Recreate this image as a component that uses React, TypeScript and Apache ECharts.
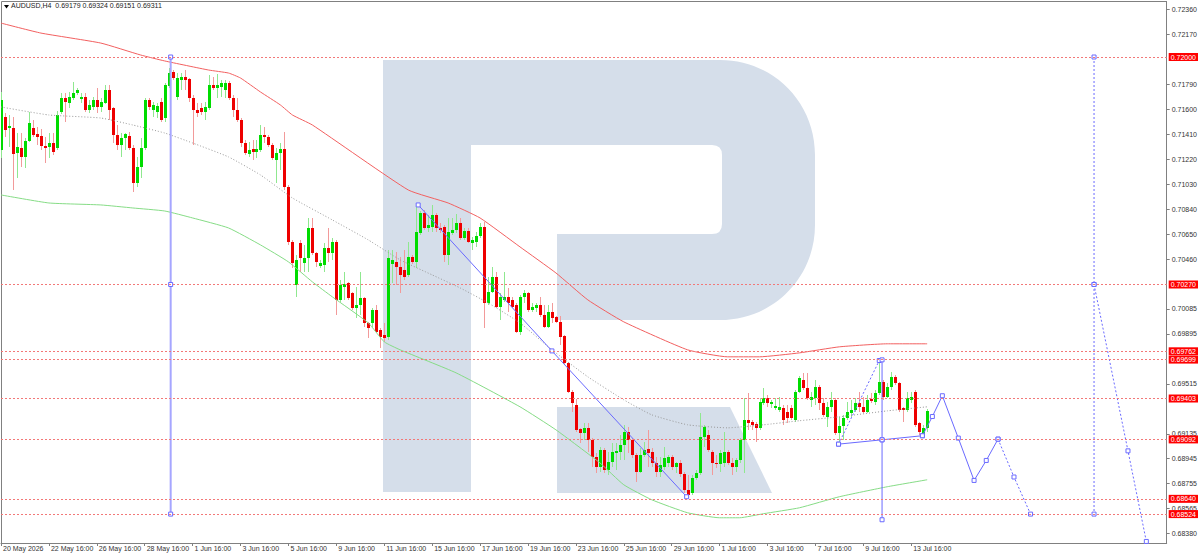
import { useEffect, useRef } from "react";
import * as echarts from "echarts";

const UP = "#00dc00";
const DOWN = "#ee0000";
const UP_WICK = "#8fe88f";
const DOWN_WICK = "#f29a9a";
const LEVEL = "#f27878";
const BLUE = "#6a6aff";
const AXIS = "#808080";
const TEXT = "#333333";
const LOGO = "#d5deea";
const FONT = "Liberation Sans, Arial, sans-serif";

// x is the H4 bar number counted from 20 May 16:00, y is the AUDUSD price
const X_MAX = 292;
const Y_MIN = 0.683042;
const Y_MAX = 0.724183;

const timeTicks = [0, 12, 24, 36, 48, 60, 72, 84, 96, 108, 120, 132, 144, 156, 168, 180, 192, 204, 216, 228];
const timeLabels = [
  "20 May 2026", "22 May 16:00", "26 May 16:00", "28 May 16:00", "1 Jun 16:00", "3 Jun 16:00", "5 Jun 16:00",
  "9 Jun 16:00", "11 Jun 16:00", "15 Jun 16:00", "17 Jun 16:00", "19 Jun 16:00", "23 Jun 16:00", "25 Jun 16:00",
  "29 Jun 16:00", "1 Jul 16:00", "3 Jul 16:00", "7 Jul 16:00", "9 Jul 16:00", "13 Jul 16:00",
];
const priceTicks = [
  0.7236, 0.7217, 0.7179, 0.716, 0.7141, 0.7122, 0.7103, 0.7084, 0.7065, 0.7046, 0.70085, 0.69895, 0.69515,
  0.69135, 0.68945, 0.68755, 0.68565, 0.6838,
];

// [open, close, low, high]
const candles: [number, number, number, number][] = [
  [0.71293, 0.71673, 0.71232, 0.71734], [0.71544, 0.71445, 0.71392, 0.71574], [0.7146, 0.71475, 0.71316, 0.71559],
  [0.7146, 0.71263, 0.70989, 0.71544], [0.7127, 0.71316, 0.7108, 0.71422], [0.71308, 0.7124, 0.71164, 0.71422],
  [0.7124, 0.71361, 0.71156, 0.71384], [0.71361, 0.71498, 0.71354, 0.71582], [0.7146, 0.71407, 0.71392, 0.71521],
  [0.71415, 0.71392, 0.71331, 0.71468], [0.71399, 0.71323, 0.71293, 0.71453], [0.71323, 0.71308, 0.71194, 0.71392],
  [0.71316, 0.71346, 0.71232, 0.71422], [0.71346, 0.71278, 0.71255, 0.71422], [0.71308, 0.71559, 0.71293, 0.71589],
  [0.71582, 0.71688, 0.71567, 0.71726], [0.71688, 0.71658, 0.71506, 0.71726], [0.7165, 0.71696, 0.71612, 0.71734],
  [0.71688, 0.71726, 0.71673, 0.7181], [0.71726, 0.71749, 0.71711, 0.71764], [0.71681, 0.71696, 0.7165, 0.71726],
  [0.71696, 0.71597, 0.71582, 0.71726], [0.71597, 0.71635, 0.71574, 0.71673], [0.7162, 0.71673, 0.71597, 0.71696],
  [0.71673, 0.7162, 0.71574, 0.71764], [0.7162, 0.71658, 0.71582, 0.71688], [0.7165, 0.71749, 0.71643, 0.71787],
  [0.71749, 0.71597, 0.71521, 0.71787], [0.71612, 0.71407, 0.71346, 0.7162], [0.71407, 0.71331, 0.71293, 0.71483],
  [0.71331, 0.71384, 0.7124, 0.71422], [0.71384, 0.71415, 0.71293, 0.71422], [0.71399, 0.71308, 0.71293, 0.7143],
  [0.71308, 0.71042, 0.70974, 0.71331], [0.71042, 0.71164, 0.71012, 0.7124], [0.71164, 0.71308, 0.7108, 0.71384],
  [0.71308, 0.71673, 0.71293, 0.71688], [0.71673, 0.7162, 0.71597, 0.71688], [0.71597, 0.71635, 0.71544, 0.71658],
  [0.71582, 0.71627, 0.71536, 0.7165], [0.71658, 0.71521, 0.71506, 0.71688], [0.71536, 0.71787, 0.71506, 0.71802],
  [0.71779, 0.71878, 0.71764, 0.71916], [0.71886, 0.7184, 0.71825, 0.71901], [0.71696, 0.7184, 0.71673, 0.71878],
  [0.71825, 0.71848, 0.71749, 0.71878], [0.71848, 0.71825, 0.71749, 0.71901], [0.71833, 0.71688, 0.71658, 0.7184],
  [0.71688, 0.71597, 0.71331, 0.71711], [0.71597, 0.71574, 0.71544, 0.7165], [0.71612, 0.71582, 0.71559, 0.7165],
  [0.71582, 0.7162, 0.71521, 0.71658], [0.71612, 0.71787, 0.71597, 0.71863], [0.71787, 0.71764, 0.71749, 0.71848],
  [0.71764, 0.71787, 0.71688, 0.71871], [0.71772, 0.71802, 0.71696, 0.71825], [0.71749, 0.71802, 0.71688, 0.71825],
  [0.71802, 0.71688, 0.71673, 0.71817], [0.71688, 0.71597, 0.71544, 0.71711], [0.71597, 0.71521, 0.71506, 0.71688],
  [0.71521, 0.71346, 0.71316, 0.71536], [0.71346, 0.7127, 0.71255, 0.71369], [0.71263, 0.71293, 0.7124, 0.71354],
  [0.71301, 0.71278, 0.71217, 0.71369], [0.71278, 0.71301, 0.71232, 0.71369], [0.71293, 0.71407, 0.71278, 0.71483],
  [0.71407, 0.71392, 0.71346, 0.71468], [0.71392, 0.71331, 0.71316, 0.71407], [0.71331, 0.71232, 0.71217, 0.71346],
  [0.71217, 0.7127, 0.71042, 0.71308], [0.7127, 0.71301, 0.71141, 0.71346], [0.71301, 0.71012, 0.70989, 0.7143],
  [0.71012, 0.70594, 0.70571, 0.71027], [0.70594, 0.70434, 0.70396, 0.70609], [0.70267, 0.70457, 0.70176, 0.70495],
  [0.70586, 0.70472, 0.70366, 0.70609], [0.70434, 0.70472, 0.70366, 0.70571], [0.70472, 0.707, 0.70366, 0.70776],
  [0.707, 0.7051, 0.70495, 0.70776], [0.7051, 0.70442, 0.70404, 0.70518], [0.70411, 0.70434, 0.70396, 0.70457],
  [0.70419, 0.70548, 0.70366, 0.70586], [0.70548, 0.7051, 0.70442, 0.707], [0.7051, 0.70594, 0.70457, 0.70624],
  [0.70594, 0.70153, 0.70039, 0.70609], [0.70153, 0.70267, 0.70138, 0.70305], [0.70252, 0.70275, 0.70153, 0.70366],
  [0.70282, 0.70168, 0.70153, 0.7029], [0.70206, 0.70092, 0.70077, 0.70214], [0.70092, 0.70115, 0.70016, 0.70252],
  [0.70115, 0.70168, 0.70039, 0.70366], [0.70168, 0.69978, 0.69948, 0.70176], [0.69978, 0.6994, 0.69864, 0.69986],
  [0.69978, 0.70077, 0.69948, 0.70092], [0.70077, 0.6991, 0.69902, 0.70115], [0.69925, 0.69872, 0.69788, 0.6994],
  [0.69887, 0.69864, 0.69834, 0.69978], [0.69872, 0.70472, 0.69849, 0.70533], [0.70426, 0.70457, 0.70282, 0.70533],
  [0.70442, 0.70404, 0.70267, 0.70518], [0.70404, 0.70343, 0.70206, 0.7048], [0.70381, 0.70328, 0.70305, 0.70533],
  [0.70343, 0.7048, 0.70328, 0.70594], [0.7048, 0.70442, 0.70426, 0.70495], [0.70442, 0.7067, 0.70396, 0.70875],
  [0.70662, 0.70814, 0.70647, 0.70829], [0.70814, 0.707, 0.70685, 0.70837], [0.707, 0.70723, 0.7067, 0.70799],
  [0.70708, 0.70799, 0.7067, 0.70875], [0.70799, 0.707, 0.7067, 0.70814], [0.707, 0.70685, 0.70662, 0.70738],
  [0.70708, 0.70495, 0.70442, 0.70723], [0.70495, 0.7067, 0.70419, 0.70776], [0.70662, 0.70685, 0.70647, 0.70776],
  [0.70685, 0.70738, 0.70662, 0.70807], [0.70738, 0.70624, 0.70609, 0.70776], [0.70624, 0.70677, 0.70609, 0.707],
  [0.70677, 0.70594, 0.70586, 0.707], [0.70586, 0.70609, 0.70533, 0.70632], [0.70594, 0.70639, 0.70556, 0.7067],
  [0.70639, 0.70708, 0.70624, 0.70738], [0.70708, 0.7013, 0.6994, 0.70746], [0.7013, 0.70214, 0.70115, 0.70328],
  [0.70214, 0.70328, 0.70206, 0.70404], [0.70328, 0.701, 0.70092, 0.70366], [0.701, 0.70176, 0.70001, 0.70206],
  [0.70153, 0.70176, 0.70138, 0.70366], [0.70176, 0.7013, 0.70062, 0.70244], [0.70153, 0.701, 0.70092, 0.70176],
  [0.70115, 0.6991, 0.69902, 0.7013], [0.6991, 0.70176, 0.69887, 0.70191], [0.70176, 0.70206, 0.7013, 0.70229],
  [0.70206, 0.70077, 0.70062, 0.70214], [0.70077, 0.701, 0.70062, 0.7013], [0.70092, 0.70115, 0.70062, 0.7013],
  [0.70115, 0.70039, 0.70024, 0.70176], [0.70039, 0.69948, 0.6994, 0.70115], [0.69948, 0.70062, 0.6994, 0.70115],
  [0.70062, 0.70016, 0.69978, 0.7013], [0.70024, 0.69986, 0.69978, 0.70031], [0.69986, 0.69872, 0.69811, 0.70031],
  [0.69879, 0.69674, 0.69659, 0.69887], [0.69674, 0.69454, 0.69446, 0.69682], [0.69454, 0.6937, 0.69302, 0.69469],
  [0.69355, 0.69165, 0.6915, 0.69401], [0.69173, 0.69142, 0.69066, 0.6918], [0.69142, 0.6918, 0.69089, 0.69218],
  [0.6918, 0.69089, 0.68998, 0.69218], [0.69089, 0.6896, 0.68884, 0.69104], [0.6896, 0.68884, 0.68838, 0.6899],
  [0.68884, 0.69013, 0.68846, 0.69036], [0.69013, 0.68861, 0.68838, 0.69028], [0.68861, 0.68922, 0.68823, 0.68998],
  [0.68922, 0.68998, 0.68884, 0.69066], [0.6899, 0.69005, 0.68861, 0.69066], [0.68998, 0.69051, 0.68937, 0.69127],
  [0.69051, 0.6915, 0.68937, 0.69203], [0.6915, 0.69089, 0.6899, 0.69188], [0.69089, 0.68975, 0.68952, 0.69104],
  [0.68975, 0.68846, 0.6877, 0.6899], [0.68846, 0.68975, 0.68838, 0.69028], [0.68975, 0.69013, 0.6896, 0.69074],
  [0.6902, 0.6899, 0.68884, 0.69165], [0.68998, 0.68914, 0.68884, 0.69028], [0.68914, 0.68846, 0.68808, 0.6896],
  [0.68846, 0.68899, 0.68808, 0.6896], [0.68884, 0.68952, 0.68861, 0.69036], [0.68914, 0.6896, 0.68884, 0.68975],
  [0.6896, 0.68884, 0.68861, 0.68975], [0.68884, 0.68914, 0.68838, 0.68922], [0.68914, 0.68831, 0.68808, 0.68937],
  [0.68831, 0.68709, 0.68686, 0.68846], [0.68709, 0.68671, 0.68648, 0.68823], [0.68686, 0.688, 0.68671, 0.68823],
  [0.688, 0.68838, 0.68785, 0.68861], [0.68838, 0.69112, 0.68823, 0.69294], [0.69112, 0.69188, 0.69036, 0.69203],
  [0.69127, 0.69013, 0.68998, 0.69165], [0.68998, 0.68914, 0.68823, 0.69013], [0.68914, 0.68907, 0.68876, 0.68975],
  [0.68907, 0.6899, 0.68846, 0.69013], [0.68914, 0.68998, 0.68884, 0.6915], [0.68998, 0.68914, 0.68899, 0.69013],
  [0.68914, 0.68884, 0.68823, 0.68952], [0.68884, 0.68937, 0.68846, 0.68952], [0.68937, 0.69089, 0.68914, 0.69104],
  [0.69089, 0.69241, 0.68838, 0.69408], [0.69241, 0.69218, 0.69165, 0.69446], [0.69226, 0.69203, 0.69165, 0.69241],
  [0.69211, 0.6918, 0.69074, 0.69226], [0.6918, 0.69378, 0.69165, 0.69408], [0.6937, 0.69408, 0.69355, 0.69484],
  [0.69408, 0.6937, 0.6934, 0.69431], [0.69363, 0.69378, 0.69332, 0.69393], [0.69332, 0.69347, 0.69317, 0.69408],
  [0.69317, 0.6934, 0.69302, 0.69416], [0.69332, 0.69241, 0.69203, 0.69355], [0.69302, 0.69256, 0.69218, 0.69355],
  [0.69332, 0.69256, 0.69241, 0.69355], [0.69241, 0.69454, 0.69226, 0.69469], [0.69454, 0.6956, 0.69446, 0.69576],
  [0.69545, 0.69484, 0.69469, 0.69598], [0.69484, 0.69408, 0.69393, 0.69598], [0.69393, 0.69416, 0.6934, 0.69454],
  [0.69408, 0.69492, 0.69355, 0.69545], [0.69492, 0.6937, 0.69317, 0.69507], [0.6937, 0.69279, 0.69264, 0.69408],
  [0.69264, 0.6934, 0.69188, 0.69378], [0.6934, 0.69393, 0.69302, 0.69454], [0.69393, 0.69142, 0.69127, 0.69408],
  [0.69142, 0.69195, 0.69074, 0.69264], [0.69195, 0.69256, 0.69089, 0.69279], [0.69256, 0.69302, 0.69241, 0.69378],
  [0.69294, 0.69317, 0.69264, 0.69393], [0.69317, 0.6937, 0.69302, 0.69408], [0.6937, 0.6934, 0.69302, 0.69454],
  [0.6934, 0.69302, 0.69294, 0.69416], [0.69302, 0.69393, 0.69294, 0.69431], [0.69401, 0.69386, 0.6937, 0.69446],
  [0.69378, 0.69446, 0.69355, 0.69469], [0.69446, 0.6953, 0.69431, 0.69682], [0.6953, 0.69416, 0.69393, 0.69545],
  [0.69416, 0.69492, 0.69408, 0.69522], [0.69492, 0.69568, 0.69469, 0.69606], [0.69568, 0.69522, 0.69507, 0.69583],
  [0.69522, 0.69317, 0.69302, 0.6953], [0.69332, 0.69317, 0.69226, 0.6934], [0.69317, 0.69408, 0.69302, 0.69454],
  [0.69393, 0.69416, 0.6937, 0.69454], [0.69454, 0.69203, 0.69188, 0.69469], [0.69218, 0.6915, 0.69127, 0.69226],
  [0.69127, 0.6918, 0.69112, 0.69203], [0.69179, 0.69311, 0.69151, 0.69324],
];

// moving averages, read at a few bars along each curve
const maRed: [number, number][] = [
  [0, 0.72258], [10, 0.72182], [25, 0.72106], [35, 0.72015], [41, 0.7197], [52, 0.71901], [57, 0.71878],
  [60, 0.7184], [65, 0.71734], [70, 0.71635], [73, 0.71559], [78, 0.71483], [102, 0.70989], [112, 0.7089],
  [120, 0.70776], [130, 0.70556], [139, 0.70358], [147, 0.70153], [156, 0.69986], [172, 0.69773], [182, 0.6972],
  [190, 0.6972], [200, 0.6975], [210, 0.69796], [222, 0.69819], [232, 0.69819],
];
const maGreen: [number, number][] = [
  [0, 0.70951], [12, 0.7089], [25, 0.70875], [33, 0.70852], [41, 0.70829], [48, 0.70776], [57, 0.707],
  [65, 0.70571], [72, 0.70442], [78, 0.7029], [83, 0.70176], [92, 0.69978], [96, 0.69834], [100, 0.69773],
  [114, 0.69598], [130, 0.6934], [139, 0.69165], [150, 0.68914], [156, 0.68747], [163, 0.68633], [172, 0.68534],
  [180, 0.68496], [185, 0.68496], [191, 0.68527], [200, 0.68572], [210, 0.68656], [222, 0.68732], [232, 0.68785],
];
const maGray: [number, number][] = [
  [0, 0.7162], [12, 0.71559], [25, 0.71536], [33, 0.71483], [41, 0.71422], [48, 0.71346], [57, 0.7124],
  [65, 0.71103], [73, 0.70928], [83, 0.70761], [92, 0.70609], [100, 0.70457], [108, 0.70343], [115, 0.70244],
  [122, 0.7013], [130, 0.69978], [138, 0.69773], [147, 0.69568], [156, 0.69393], [163, 0.69279], [172, 0.69203],
  [182, 0.6918], [191, 0.69203], [200, 0.69234], [210, 0.69264], [222, 0.69309], [232, 0.6934],
];

const levelPrices = [0.72, 0.7027, 0.69762, 0.69699, 0.69403, 0.69092, 0.6864, 0.68524];
const lastPrice = 0.69311;

// drawn objects: [bar, price]
const cycleLeft: [number, number][] = [[42.5, 0.72], [42.5, 0.7027], [42.5, 0.68524]];
const trendDown: [number, number][] = [[104.5, 0.70875], [138, 0.69765], [171.75, 0.68656]];
const baseLine: [number, number][] = [[209.8, 0.69056], [220.7, 0.69089], [230.8, 0.6912]];
const triangleSide: [number, number][] = [[209.8, 0.69056], [220, 0.69692]];
const pivotLine: [number, number][] = [[220.7, 0.69697], [220.7, 0.69089], [220.7, 0.68481]];
const forecast: [number, number][] = [
  [230.8, 0.6912], [233.3, 0.69266], [235.8, 0.69424], [239.8, 0.69102], [243.75, 0.6878], [246.8, 0.68932],
  [249.75, 0.69094],
];
const forecastTail: [number, number][] = [[249.75, 0.69094], [253.75, 0.68806], [257.9, 0.68524]];
const cycleRight: [number, number][] = [[273.8, 0.72], [273.8, 0.7027], [273.8, 0.68524]];
const cycleSlope: [number, number][] = [[273.8, 0.7027], [282.3, 0.69005], [286.9, 0.68316]];

const R_BOWL =
  "M471 60 L720 60 C773 60 815 102 815 155 L815 225 C815 278 773 320 720 320 L557 320 L557 234 L712 234 Q722 234 722 224 L722 155 Q722 145 712 145 L471 145 Z";
echarts.graphic.registerShape("rBowl", echarts.graphic.extendPath(R_BOWL, {}));

function drawing(data: [number, number][], dashed: boolean, color = BLUE, width = 1) {
  return {
    type: "line" as const,
    data,
    symbol: "rect",
    symbolSize: 4,
    showSymbol: true,
    itemStyle: { color: "#ffffff", borderColor: BLUE, borderWidth: 1 },
    lineStyle: { color, width, type: dashed ? [2, 2] : "solid" },
    z: 4,
    silent: true,
  };
}

function average(data: [number, number][], color: string, dotted = false) {
  return {
    type: "line" as const,
    data,
    smooth: 0.15,
    showSymbol: false,
    lineStyle: { color, width: 1, type: dotted ? [1, 2] : "solid" },
    silent: true,
  };
}

export default function App() {
  const elRef = useRef<HTMLDivElement>(null);

  useEffect(() => {
    const el = elRef.current;
    if (!el) return;
    const chart = echarts.init(el, undefined, { renderer: "svg" });
    const labelFont = { fontSize: 7, fontFamily: FONT, color: TEXT };

    chart.setOption({
      animation: false,
      backgroundColor: "#ffffff",
      grid: { left: 0, right: 33, top: 2, bottom: 12, show: false },
      graphic: [
        { type: "rect", shape: { x: 383, y: 60, width: 88, height: 432 }, style: { fill: LOGO }, silent: true },
        { type: "rBowl", shape: {}, style: { fill: LOGO }, silent: true },
        { type: "polygon", shape: { points: [[557, 407], [730, 407], [772, 493], [557, 493]] }, style: { fill: LOGO }, silent: true },
        { type: "line", shape: { x1: 1.5, y1: 1.5, x2: 1167, y2: 1.5 }, style: { stroke: AXIS, lineWidth: 1 } },
        { type: "line", shape: { x1: 1.5, y1: 1.5, x2: 1.5, y2: 543 }, style: { stroke: AXIS, lineWidth: 1 } },
        { type: "polygon", z: 10, shape: { points: [[4, 5], [9, 5], [6.5, 8.5]] }, style: { fill: "#000" } },
        {
          type: "text",
          z: 10,
          x: 11,
          y: 2,
          style: { text: "AUDUSD,H4  0.69179 0.69324 0.69151 0.69311", fill: "#222", font: `7px ${FONT}` },
        },
      ],
      xAxis: {
        type: "value",
        min: 0,
        max: X_MAX,
        axisLine: { show: true, onZero: false, lineStyle: { color: AXIS } },
        axisTick: { show: true, customValues: timeTicks, length: 3, lineStyle: { color: AXIS } },
        axisLabel: {
          ...labelFont,
          customValues: timeTicks,
          formatter: (v: number) => timeLabels[timeTicks.indexOf(v)] ?? "",
          align: "left",
          margin: 2,
          padding: [0, 0, 0, 2],
          showMinLabel: true,
          showMaxLabel: true,
        },
        splitLine: { show: false },
      },
      yAxis: {
        type: "value",
        position: "right",
        min: Y_MIN,
        max: Y_MAX,
        axisLine: { show: true, onZero: false, lineStyle: { color: AXIS } },
        axisTick: { show: true, customValues: priceTicks, length: 3, lineStyle: { color: AXIS } },
        axisLabel: { ...labelFont, customValues: priceTicks, formatter: (v: number) => v.toFixed(5), margin: 5 },
        splitLine: { show: false },
      },
      series: [
        average(maGray, "#989898", true),
        average(maRed, "#f26060"),
        average(maGreen, "#86dc86"),
        {
          type: "custom",
          clip: true,
          z: 3,
          data: candles.map((d, i) => [i, ...d]),
          encode: { x: 0, y: [1, 2, 3, 4] },
          renderItem: (_params: unknown, api: any) => {
            const i = api.value(0);
            const o = api.value(1);
            const c = api.value(2);
            const l = api.value(3);
            const h = api.value(4);
            const up = c >= o;
            const [x, yo] = api.coord([i, o]);
            const yc = api.coord([i, c])[1];
            const yl = api.coord([i, l])[1];
            const yh = api.coord([i, h])[1];
            const cx = Math.round(x);
            const top = Math.round(Math.min(yo, yc));
            const bot = Math.round(Math.max(yo, yc));
            return {
              type: "group",
              children: [
                {
                  type: "line",
                  shape: { x1: cx + 0.5, y1: Math.round(yh), x2: cx + 0.5, y2: Math.round(yl) },
                  style: { stroke: up ? UP_WICK : DOWN_WICK, lineWidth: 1 },
                },
                {
                  type: "rect",
                  shape: { x: cx - 1, y: top, width: 3, height: Math.max(1, bot - top) },
                  style: { fill: up ? UP : DOWN },
                },
              ],
            };
          },
        },
        drawing(cycleLeft, false, "#a6a6ff", 2),
        drawing(trendDown, false),
        drawing(baseLine, false),
        drawing(triangleSide, true),
        drawing(pivotLine, false),
        drawing(forecast, false),
        drawing(forecastTail, true),
        drawing(cycleRight, true),
        drawing(cycleSlope, true),
        {
          type: "line",
          data: [],
          z: 5,
          markLine: {
            silent: true,
            symbol: ["none", "none"],
            animation: false,
            precision: 5,
            lineStyle: { color: LEVEL, width: 1, type: [2, 2] },
            label: {
              show: true,
              position: "end",
              distance: 2,
              formatter: (p: { value: number }) => Number(p.value).toFixed(5),
              color: "#ffffff",
              backgroundColor: "#ff0000",
              padding: [1, 2, 0, 2],
              fontSize: 7,
              fontFamily: FONT,
            },
            data: [
              ...levelPrices.map((v) => ({ yAxis: v })),
              { yAxis: lastPrice, lineStyle: { opacity: 0 }, label: { backgroundColor: "#000000" } },
            ],
          },
        },
      ],
    });

    return () => chart.dispose();
  }, []);

  return (
    <div
      ref={elRef}
      style={{ position: "fixed", left: 0, top: 0, width: 1200, height: 555, background: "#ffffff" }}
    />
  );
}
